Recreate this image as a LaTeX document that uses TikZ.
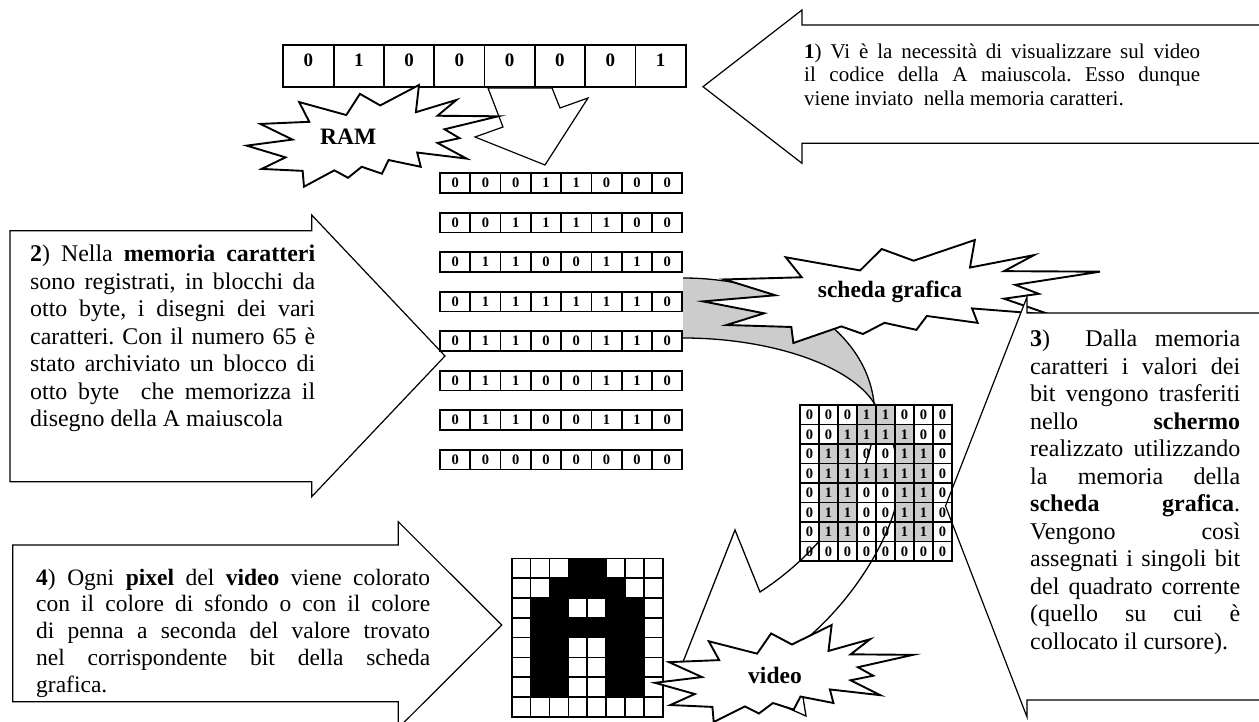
\documentclass[tikz,border=0pt]{standalone}
\usepackage{fontspec}
\setmainfont{Liberation Serif}
\frenchspacing
\definecolor{cardgray}{RGB}{204,204,204}

% one justified line / one left-aligned line of a text block
\newcommand\jline[1]{\makebox[\linewidth][s]{#1}\par}
\newcommand\lline[1]{\makebox[\linewidth][l]{#1}\par}
% jagged "explosion" outline in a box: left, top, width, height
\newcommand\drawburst[4]{%
  \begin{scope}[shift={(#1,#2)},xscale=#3/216,yscale=#4/216]
    \path[burst] (114.62,43.42) -- (147.90,0) -- (145.25,57.77) -- (180.07,31.72)
      -- (163.80,65.32) -- (216.00,66.45) -- (169.85,94.02) -- (182.70,112.90)
      -- (163.80,123.10) -- (188.77,156.32) -- (146.40,143.50) -- (149.42,173.70)
      -- (121.80,159.35) -- (116.12,188.42) -- (98.72,173.70) -- (87.00,197.12)
      -- (75.27,181.25) -- (49.17,216.00) -- (48.05,182.40) -- (12.85,178.25)
      -- (33.30,153.70) -- (0,128.77) -- (39.35,115.92) -- (11.72,82.70)
      -- (53.72,78.17) -- (45.02,36.25) -- (85.50,63.82) -- (97.22,18.87) -- cycle;
  \end{scope}}

\tikzset{
  callout/.style={draw=black, fill=white, line width=1.2pt, line join=miter},
  burst/.style={draw=black, fill=white, line width=1.9pt, line join=miter},
  bendline/.style={draw=black, line width=1.3pt},
  burstlabel/.style={font=\fontsize{23.5}{26}\selectfont\bfseries, inner sep=0pt},
  textblock/.style={inner sep=0pt, anchor=base west},
  regcell/.style={draw=black, fill=white, line width=1.8pt, minimum width=50.3pt,
    minimum height=42pt, inner sep=0pt},
  regdigit/.style={font=\fontsize{19}{21}\selectfont\bfseries, inner sep=0pt, anchor=base},
  memcell/.style={draw=black, fill=white, line width=1.7pt, minimum width=30.3pt,
    minimum height=19.7pt, inner sep=0pt, font=\fontsize{14.5}{16}\selectfont\bfseries},
  cardcell/.style={draw=black, line width=1.6pt, minimum width=19pt,
    minimum height=19.5pt, inner sep=0pt, font=\fontsize{14.5}{16}\selectfont\bfseries},
  pixcell/.style={draw=black, line width=1.6pt, minimum width=18.875pt,
    minimum height=19.8pt, inner sep=0pt},
}

\begin{document}
\begin{tikzpicture}[x=1pt,y=-1pt]
\useasboundingbox (0,0) rectangle (1259,722);
\clip (0,0) rectangle (1259,722);

% ---------- arrow callouts ----------
\path[callout] (1265,25) -- (802,25) -- (802,10) -- (703,86.7) -- (802,163.3)
  -- (802,143.3) -- (1265,143.3) -- cycle;
\node[textblock] (note1) at (804,58.3) {\parbox[t]{396pt}{\fontsize{21}{23.7}\selectfont
  \jline{\textbf{1}) Vi è la necessità di visualizzare sul video}
  \jline{il codice della A maiuscola. Esso dunque}
  \lline{viene inviato\ \ nella memoria caratteri.}}};

\path[callout] (10,230.7) -- (311.7,230.7) -- (311.7,215) -- (445,356) -- (311.7,496.7)
  -- (311.7,481.7) -- (10,481.7) -- cycle;
\node[textblock] (note2) at (30,261.7) {\parbox[t]{285pt}{\fontsize{23.9}{27.5}\selectfont
  \jline{\textbf{2}) Nella \textbf{memoria caratteri}}
  \jline{sono registrati, in blocchi da}
  \jline{otto byte, i disegni dei vari}
  \jline{caratteri. Con il numero 65 è}
  \jline{stato archiviato un blocco di}
  \jline{otto byte\ \ che memorizza il}
  \lline{disegno della A maiuscola}}};

\path[callout] (12.7,545) -- (398.3,545) -- (398.3,521.7) -- (501.7,625) -- (398.3,728)
  -- (398.3,701.7) -- (12.7,701.7) -- cycle;
\node[textblock] (note4) at (36,585) {\parbox[t]{394pt}{\fontsize{23.5}{26.8}\selectfont
  \jline{\textbf{4}) Ogni \textbf{pixel} del \textbf{video} viene colorato}
  \jline{con il colore di sfondo o con il colore}
  \jline{di penna a seconda del valore trovato}
  \jline{nel corrispondente bit della scheda}
  \lline{grafica.}}};

% ---------- curved arrow: character memory -> card -> video ----------
\fill[cardgray] (683,278) .. controls (785,278) and (866,330) .. (874,403)
  .. controls (850,365) and (770,338) .. (683,338) -- cycle;
\draw[bendline] (683,278) .. controls (785,278) and (866,330) .. (874,403);
\draw[bendline] (683,338) .. controls (770,338) and (850,365) .. (874,403);
\path[bendline, fill=white, line join=miter] (874,403) .. controls (880,460) and (840,540) .. (760,592)
  -- (735,530) -- (683,662) -- (806,716) -- (795,648)
  .. controls (845,610) and (880,555) .. (893,515)
  .. controls (905,480) and (895,430) .. (874,403) -- cycle;

% ---------- character memory: the eight bytes of 'A' ----------
\foreach \row [count=\i] in {{0,0,0,1,1,0,0,0},{0,0,1,1,1,1,0,0},{0,1,1,0,0,1,1,0},
    {0,1,1,1,1,1,1,0},{0,1,1,0,0,1,1,0},{0,1,1,0,0,1,1,0},{0,1,1,0,0,1,1,0},
    {0,0,0,0,0,0,0,0}} {
  \foreach \b [count=\j] in \row {
    \node[memcell] (mem\i-\j) at ({440+30.29*(\j-0.5)},{173.3+39.5*(\i-1)+9.85}) {\b};
  }
}

% ---------- graphics card burst ----------
\drawburst{703}{240}{397}{103}
\node[burstlabel] (cardlabel) at (890,292) {scheda grafica};

% ---------- callout 3 ----------
\path[callout] (1265,313) -- (1027,313) -- (1027,297) -- (945.5,506) -- (1027,717)
  -- (1027,700) -- (1265,700) -- cycle;
\node[textblock] (note3) at (1030,346.7) {\parbox[t]{210pt}{\fontsize{24}{27.5}\selectfont
  \jline{\textbf{3})\ \ Dalla memoria}
  \jline{caratteri i valori dei}
  \jline{bit vengono trasferiti}
  \jline{nello \textbf{schermo}}
  \jline{realizzato utilizzando}
  \jline{la memoria della}
  \jline{\textbf{scheda grafica}.}
  \jline{Vengono così}
  \jline{assegnati i singoli bit}
  \jline{del quadrato corrente}
  \jline{(quello su cui è}
  \lline{collocato il cursore).}}};

% ---------- graphics card memory grid ----------
\foreach \row [count=\i] in {{0,0,0,1,1,0,0,0},{0,0,1,1,1,1,0,0},{0,1,1,0,0,1,1,0},
    {0,1,1,1,1,1,1,0},{0,1,1,0,0,1,1,0},{0,1,1,0,0,1,1,0},{0,1,1,0,0,1,1,0},
    {0,0,0,0,0,0,0,0}} {
  \foreach \b [count=\j] in \row {
    \ifnum\b=1 \def\cellfill{cardgray}\else\def\cellfill{none}\fi
    \node[cardcell, fill=\cellfill] (card\i-\j) at ({800+19*(\j-0.5)},{405+19.5*(\i-0.5)}) {\b};
  }
}

% ---------- video pixels ----------
\foreach \row [count=\i] in {{0,0,0,1,1,0,0,0},{0,0,1,1,1,1,0,0},{0,1,1,0,0,1,1,0},
    {0,1,1,1,1,1,1,0},{0,1,1,0,0,1,1,0},{0,1,1,0,0,1,1,0},{0,1,1,0,0,1,1,0},
    {0,0,0,0,0,0,0,0}} {
  \foreach \b [count=\j] in \row {
    \ifnum\b=1 \def\pixfill{black}\else\def\pixfill{white}\fi
    \node[pixcell, fill=\pixfill] (pix\i-\j) at ({511.7+18.875*(\j-0.5)},{558.3+19.8*(\i-0.5)}) {};
  }
}

% ---------- video burst ----------
\drawburst{655}{625}{258}{97}
\node[burstlabel] (videolabel) at (775,675) {video};

% ---------- RAM byte and its arrow ----------
\foreach \b [count=\k] in {0,1,0,0,0,0,0,1} {
  \node[regcell] (reg\k) at ({283.3+50.3*(\k-0.5)},66) {};
  \node[regdigit] (regd\k) at ({283.3+50.3*(\k-0.5)},66.7) {\b};
}
\path[callout] (488,88) -- (503,127) -- (475,137) -- (545,165) -- (588,98) -- (560,108)
  -- (552,88) -- cycle;
\drawburst{246.7}{85}{251.6}{101.7}
\node[burstlabel] (ramlabel) at (348.3,136.7) {RAM};
\end{tikzpicture}
\end{document}
